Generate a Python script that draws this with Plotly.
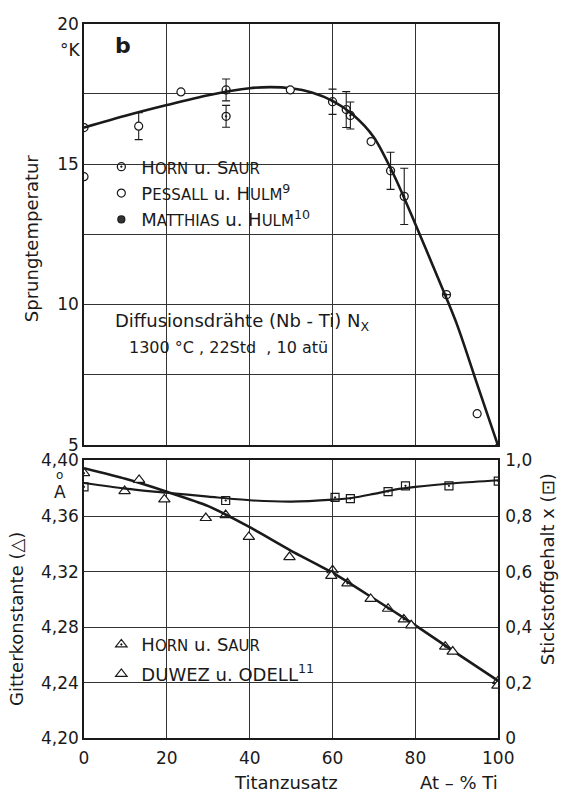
import plotly.graph_objects as go

# ---------------- data: top panel (Sprungtemperatur, K) ----------------
horn_x = [0, 34.3, 34.3, 60, 63.3, 64.3, 74, 77.3, 87.5]
horn_t = [16.3, 17.64, 16.70, 17.22, 16.94, 16.73, 14.76, 13.85, 10.35]
horn_err = [0, 0.39, 0.39, 0.45, 0.64, 0.48, 0.66, 1.0, 0]

pessall_x = [0, 13.2, 23.4, 49.8, 69.3, 94.9]
pessall_t = [14.55, 16.35, 17.57, 17.64, 15.80, 6.11]
pessall_err = [0, 0.48, 0, 0, 0, 0]

matthias_x = [100]
matthias_t = [4.9]

tc_curve_x = [0, 10, 20, 30, 40, 45, 50, 55, 60, 65, 70, 75, 80, 85, 90, 95, 100]
tc_curve_t = [16.3, 16.72, 17.1, 17.45, 17.70, 17.74, 17.70, 17.55, 17.25, 16.75,
              15.95, 14.55, 12.86, 11.1, 9.3, 7.12, 4.95]

# ---------------- data: bottom panel ----------------
horn_a_x = [0, 34.2, 60, 63.6, 73.4, 77.2, 87.2, 100]
horn_a = [4.3909, 4.3607, 4.321, 4.3116, 4.2933, 4.2856, 4.266, 4.2414]
duwez_x = [9.8, 13.3, 19.4, 29.4, 39.8, 49.6, 59.7, 69.2, 79.0, 89.0, 99.8]
duwez_a = [4.378, 4.386, 4.372, 4.3586, 4.345, 4.3305, 4.317, 4.3004, 4.2814, 4.2625, 4.238]
a_curve_x = [0, 10, 20, 30, 40, 50, 60, 70, 80, 90, 100]
a_curve = [4.3944, 4.3868, 4.3775, 4.3672, 4.352, 4.3350, 4.3193, 4.3005, 4.2814, 4.2612, 4.2414]

n_x = [0, 34.2, 60.6, 64.3, 73.4, 77.6, 88.1, 100]
n_val = [0.905, 0.856, 0.867, 0.863, 0.888, 0.909, 0.909, 0.926]
n_curve_x = [0, 10, 20, 30, 40, 50, 60, 65, 70, 75, 80, 90, 100]
n_curve = [0.919, 0.899, 0.884, 0.870, 0.857, 0.852, 0.859, 0.866, 0.880, 0.895, 0.905, 0.919, 0.929]

top_ticks = [5, 10, 15, 20]
top_minor = [7.5, 12.5, 17.5]
a_ticks = [4.20, 4.24, 4.28, 4.32, 4.36, 4.40]
a_ticktext = ["4,20", "4,24", "4,28", "4,32", "4,36", "4,40"]
n_ticks = [0, 0.2, 0.4, 0.6, 0.8, 1.0]
n_ticktext = ["0", "0,2", "0,4", "0,6", "0,8", "1,0"]
x_ticks = [0, 20, 40, 60, 80, 100]

FONT = "DejaVu Sans"
INK = "#1a1a1a"
W, H = 574, 803


def px(xp):
    return xp / W


def py(yp):
    return 1 - yp / H


def sc(big, small, sz=15):
    return f"{big}<span style='font-size:{sz}px'>{small}</span>"


fig = go.Figure()

# top curve
fig.add_trace(go.Scatter(x=tc_curve_x, y=tc_curve_t, mode="lines",
                         line=dict(color=INK, width=2.6, shape="spline", smoothing=0.8),
                         xaxis="x", yaxis="y", showlegend=False, hoverinfo="skip"))
fig.add_trace(go.Scatter(x=horn_x, y=horn_t, mode="markers", xaxis="x", yaxis="y",
                         name=sc("H", "ORN") + " u. " + sc("S", "AUR"),
                         marker=dict(symbol="circle-open-dot", size=8, color=INK,
                                     line=dict(width=1.3, color=INK)),
                         error_y=dict(type="data", array=horn_err, visible=True,
                                      color=INK, thickness=1.1, width=4),
                         legend="legend", legendgroup="h"))
fig.add_trace(go.Scatter(x=pessall_x, y=pessall_t, mode="markers", xaxis="x", yaxis="y",
                         name=sc("P", "ESSALL") + " u. " + sc("H", "ULM") + "<sup>9</sup>",
                         marker=dict(symbol="circle", size=8, color="white",
                                     line=dict(width=1.2, color=INK)),
                         error_y=dict(type="data", array=pessall_err, visible=True,
                                      color=INK, thickness=1.1, width=4),
                         legend="legend", legendgroup="p"))
fig.add_trace(go.Scatter(x=matthias_x, y=matthias_t, mode="markers", xaxis="x", yaxis="y",
                         name=sc("M", "ATTHIAS") + " u. " + sc("H", "ULM") + "<sup>10</sup>",
                         marker=dict(symbol="circle", size=7, color="#333",
                                     line=dict(width=1.2, color=INK)),
                         legend="legend", legendgroup="m"))

# bottom curves
fig.add_trace(go.Scatter(x=a_curve_x, y=a_curve, mode="lines", xaxis="x2", yaxis="y2",
                         line=dict(color=INK, width=2.6, shape="spline", smoothing=0.6),
                         showlegend=False, hoverinfo="skip"))
fig.add_trace(go.Scatter(x=n_curve_x, y=n_curve, mode="lines", xaxis="x2", yaxis="y3",
                         line=dict(color=INK, width=2.2, shape="spline", smoothing=0.8),
                         showlegend=False, hoverinfo="skip"))
fig.add_trace(go.Scatter(x=n_x, y=n_val, mode="markers", xaxis="x2", yaxis="y3",
                         marker=dict(symbol="square-open-dot", size=8, color=INK,
                                     line=dict(width=1.2, color=INK)),
                         showlegend=False))
fig.add_trace(go.Scatter(x=horn_a_x, y=horn_a, mode="markers", xaxis="x2", yaxis="y2",
                         name=sc("H", "ORN") + " u. " + sc("S", "AUR"),
                         marker=dict(symbol="triangle-up-open-dot", size=10, color=INK,
                                     line=dict(width=1.2, color=INK)),
                         legend="legend2", legendgroup="ha"))
fig.add_trace(go.Scatter(x=duwez_x, y=duwez_a, mode="markers", xaxis="x2", yaxis="y2",
                         name="DUWEZ u. ODELL<sup>11</sup>",
                         marker=dict(symbol="triangle-up", size=10, color="white",
                                     line=dict(width=1.2, color=INK)),
                         legend="legend2", legendgroup="da"))

xdom = [px(82), px(512)]
axcommon = dict(showline=True, mirror=True, linecolor=INK, linewidth=1.5,
                gridcolor="#333", gridwidth=1, zeroline=False, ticks="",
                tickfont=dict(family=FONT, size=17, color=INK))

fig.update_layout(
    width=W, height=H, margin=dict(l=0, r=0, t=0, b=0),
    paper_bgcolor="white", plot_bgcolor="white",
    font=dict(family=FONT, color=INK),
    xaxis=dict(domain=xdom, range=[0, 100], tickvals=[20, 40, 60, 80],
               showticklabels=False, anchor="y", **axcommon),
    yaxis=dict(domain=[py(446), py(14)], range=[5, 20], tickvals=top_ticks,
               minor=dict(tickvals=top_minor, showgrid=True, gridcolor="#333",
                          gridwidth=1, ticks=""),
               anchor="x", **axcommon),
    xaxis2=dict(domain=xdom, range=[0, 100], tickvals=x_ticks, anchor="y2",
                ticklabelstandoff=3, **axcommon),
    yaxis2=dict(domain=[py(747), py(462)], range=[4.20, 4.40], tickvals=a_ticks,
                ticktext=a_ticktext, anchor="x2", **axcommon),
    yaxis3=dict(overlaying="y2", side="right", anchor="x2", range=[0, 1],
                tickvals=n_ticks, ticktext=n_ticktext, showgrid=False, showline=False,
                zeroline=False, ticks="", ticklabelstandoff=6,
                tickfont=dict(family=FONT, size=17, color=INK)),
    legend=dict(x=px(100), y=py(142), xanchor="left", yanchor="top",
                bgcolor="rgba(0,0,0,0)", font=dict(family=FONT, size=18, color=INK),
                tracegroupgap=0, itemsizing="trace"),
    legend2=dict(x=px(100), y=py(632), xanchor="left", yanchor="top",
                 bgcolor="rgba(0,0,0,0)", font=dict(family=FONT, size=18, color=INK),
                 tracegroupgap=3, itemsizing="trace"),
)

ann = [
    dict(text="<b>b</b>", x=px(122), y=py(36), size=22),
    dict(text="°K", x=px(68), y=py(41), size=17),
    dict(text="Sprungtemperatur", x=px(27), y=py(234), size=18, angle=-90),
    dict(text="Diffusionsdrähte (Nb - Ti) N<sub>X</sub>", x=px(246), y=py(320), size=18),
    dict(text="1300 °C , 22Std  , 10 atü", x=px(232), y=py(346), size=16),
    dict(text="o", x=px(57), y=py(477), size=12),
    dict(text="A", x=px(57), y=py(494), size=17),
    dict(text="Gitterkonstante (△)", x=px(12), y=py(625), size=18, angle=-90),
    dict(text="Stickstoffgehalt x (⊡)", x=px(563), y=py(573), size=18, angle=-90),
    dict(text="Titanzusatz", x=px(292), y=py(792), size=18),
    dict(text="At – % Ti", x=px(471), y=py(792), size=18),
]
for a in ann:
    fig.add_annotation(text=a["text"], x=a["x"], y=a["y"], xref="paper", yref="paper",
                       showarrow=False, xanchor="center", yanchor="middle",
                       textangle=a.get("angle", 0),
                       font=dict(family=FONT, size=a["size"], color=INK))

fig.write_html("out.html")
